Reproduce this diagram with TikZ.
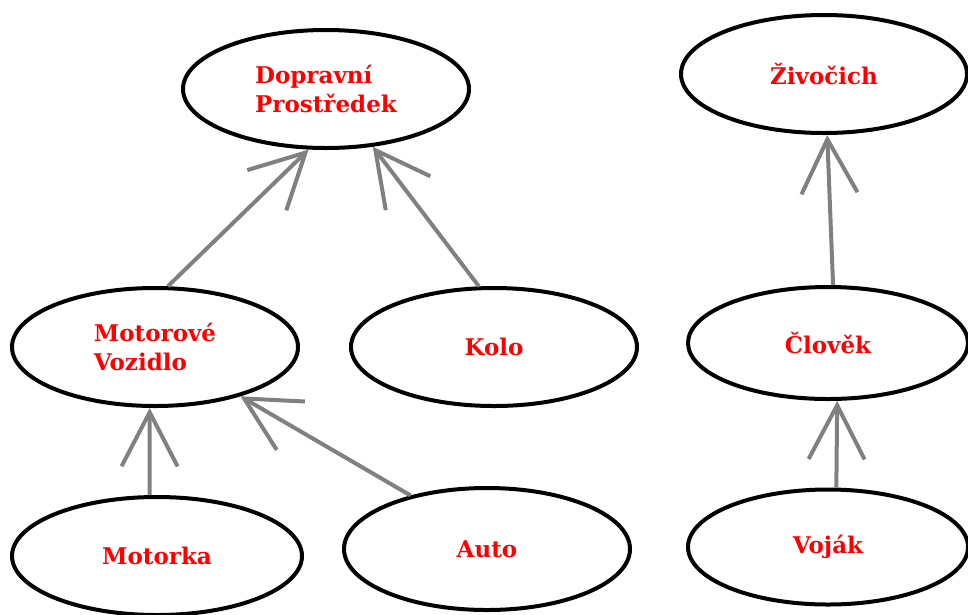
\documentclass[tikz,border=0pt]{standalone}
\usepackage{fontspec}
\setmainfont{DejaVu Serif}
\usetikzlibrary{arrows.meta}
\usetikzlibrary{shapes.geometric}
\tikzset{trida/.style={ellipse, draw=black, line width=4pt, fill=white,
        minimum width=286pt, minimum height=118pt, inner sep=0pt,
        align=left, text=red, font=\bfseries\fontsize{23}{29}\selectfont}}
\tikzset{dedi/.style={draw=gray, line width=4pt,
        -{Straight Barb[length=54pt,width=56pt]}}}

\begin{document}
\begin{tikzpicture}[x=1pt,y=-1pt]
    \useasboundingbox (0,0) rectangle (968,614);

    \node[trida] (doprava) at (326,89) {Dopravní\\Prostředek};
    \node[trida] (zivocich) at (824,74) {Živočich};
    \node[trida] (motorove) at (155,347) {Motorové\\Vozidlo};
    \node[trida] (kolo) at (494,347) {Kolo};
    \node[trida, minimum width=280pt, minimum height=112pt] (clovek) at (828,343) {Člověk};
    \node[trida, minimum width=290pt] (motorka) at (157,556) {Motorka};
    \node[trida, minimum height=122pt] (auto) at (487,549) {Auto};
    \node[trida, minimum width=280pt, minimum height=115pt] (vojak) at (828,547) {Voják};

    % dedicnost
    \draw[dedi] (motorove.78) -- (doprava.254);
    \draw[dedi] (kolo.104) -- (doprava.309);
    \draw[dedi] (motorka.97) -- (motorove.265);
    \draw[dedi] (auto.145) -- (motorove.330);
    \draw[dedi] (clovek.85) -- (zivocich.273);
    \draw[dedi] (vojak.82) -- (clovek.279);
\end{tikzpicture}
\end{document}
